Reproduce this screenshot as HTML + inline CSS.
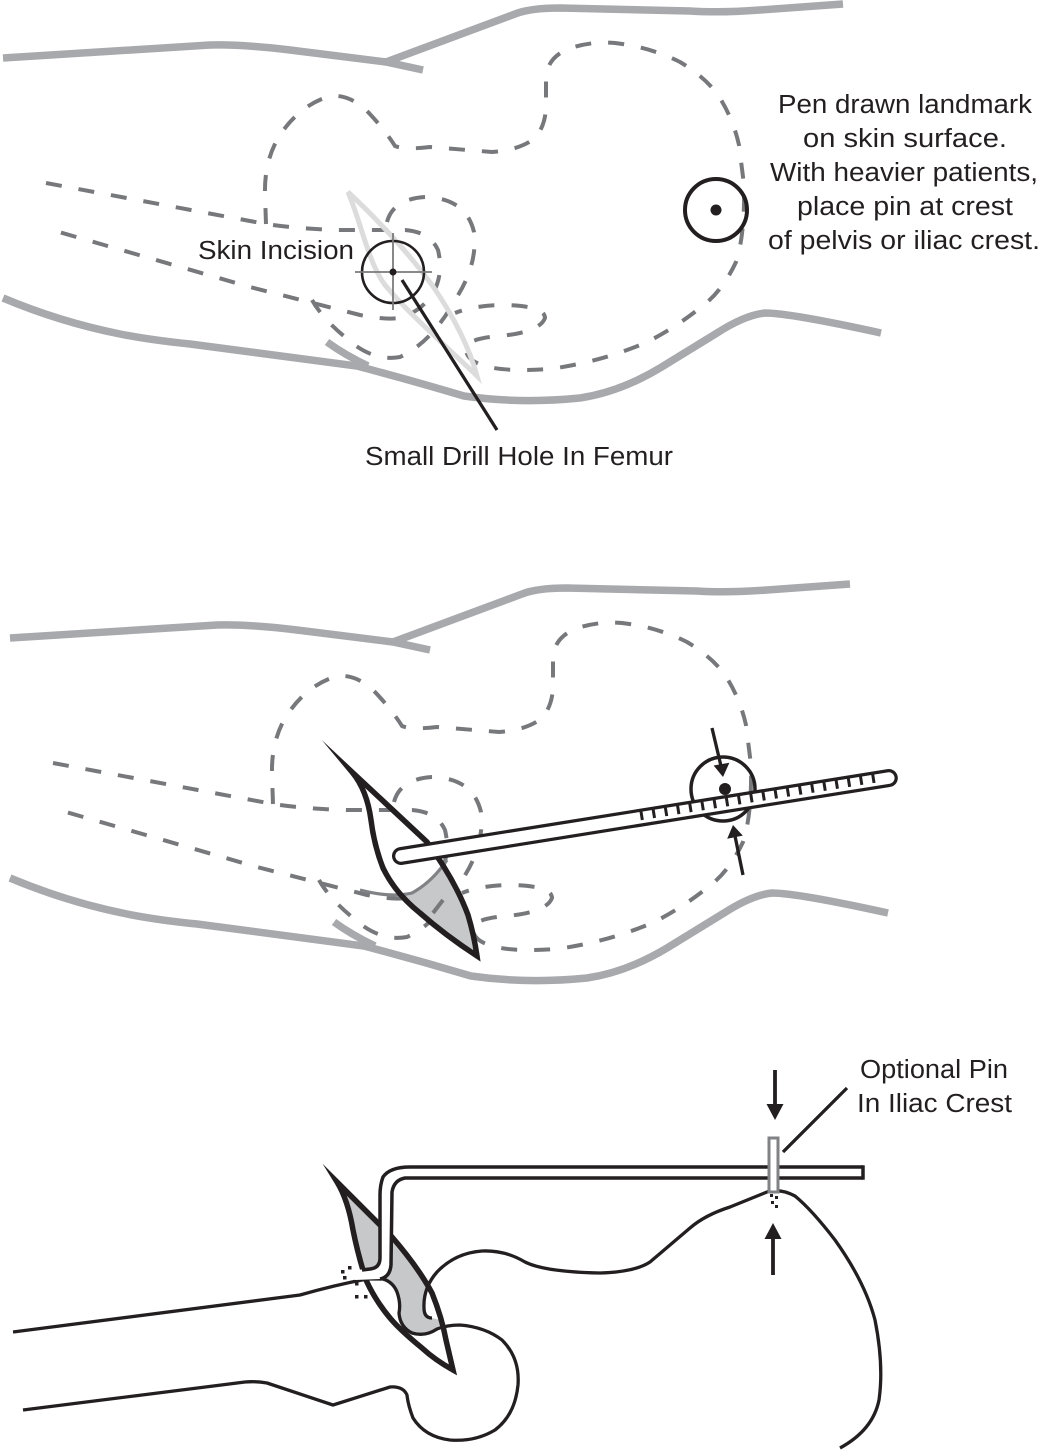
<!DOCTYPE html>
<html>
<head>
<meta charset="utf-8">
<style>
  html,body{margin:0;padding:0;background:#fff;}
  svg{display:block;}
  text{font-family:"Liberation Sans", Arial, sans-serif;font-size:25.5px;fill:#231f20;}
</style>
</head>
<body>
<svg width="1040" height="1451" viewBox="0 0 1040 1451" xmlns="http://www.w3.org/2000/svg">
<defs>
  <clipPath id="tdM"><path d="M352,772 L427,842 Q455,880 468,915 Q474,935 477,956 Q445,935 420,913 Q395,893 383,868 Q374,845 371,820 Q367,790 352,772 Z"/></clipPath>
  <clipPath id="tdB"><path d="M337,1182 L392,1237 Q418,1267 432,1293 Q442,1318 446,1340 L453,1370 Q435,1360 422,1348 Q400,1330 390,1318 Q375,1300 366,1280 Q358,1255 353,1230 Q348,1200 337,1182 Z"/></clipPath>
</defs>
<rect x="0" y="0" width="1040" height="1451" fill="#fff"/>

<!-- ================= TOP SECTION ================= -->
<g>
  <g fill="none" stroke="#a7a9ac" stroke-width="7.5">
    <path d="M3,58 L210,45 Q240,44 290,50 L386,62 L423,70"/>
    <path d="M386,62 L515,14 Q530,8 560,8 L690,11 Q720,13 760,10 L843,4"/>
    <path d="M3,298 Q60,322 120,334 Q150,340 190,344 L357,366 Q410,380 464,396 Q520,404 580,398 Q620,392 660,368 L717,333 Q745,315 765,313 Q790,313 881,333"/>
    <path d="M327,342 Q345,355 368,366"/>
  </g>
  <g fill="none" stroke="#77787b" stroke-width="4" stroke-dasharray="16 17">
    <path d="M266,224 L265,195 Q264,160 280,135 Q300,105 330,96 Q350,94 368,112 Q385,130 395,146 Q405,150 430,147 L492,152 Q520,150 535,138 Q546,125 546,105 L546,78 Q547,58 568,49 Q590,41 615,43 Q650,47 680,62 Q705,77 718,95 Q733,118 739,145 L744,185 Q745,235 736,262 Q722,292 700,308 Q672,330 645,343 Q600,362 550,369 Q505,372 485,366 Q464,360 466,346 Q472,338 500,336 Q540,332 545,318 Q545,306 505,305 Q475,305 455,313"/>
    <path d="M387,222 Q393,199 425,197 Q466,198 474,232 Q478,265 455,300 Q432,342 400,357 Q372,362 345,337 Q322,318 312,300"/>
    <path d="M46,183 L266,224 Q300,229 340,230 L405,230 Q430,232 438,250 Q444,275 432,295 Q420,312 400,318 Q385,320 360,315 L250,287 L45,228"/>
  </g>
  <circle cx="716" cy="210" r="31" fill="none" stroke="#231f20" stroke-width="4"/>
  <circle cx="716" cy="210" r="5.5" fill="#231f20"/>

  <!-- light incision -->
  <path d="M348,192 C380,222 410,255 432,285 C455,318 470,350 477,376 C445,345 410,315 385,285 C368,262 362,225 348,192 Z" fill="none" stroke="#dcdcdc" stroke-width="5"/>
  <!-- crosshair target -->
  <circle cx="393" cy="272" r="31" fill="none" stroke="#231f20" stroke-width="2.6"/>
  <line x1="355" y1="272" x2="432" y2="272" stroke="#7a7a7a" stroke-width="1.8"/>
  <line x1="393" y1="233" x2="393" y2="310" stroke="#7a7a7a" stroke-width="1.8"/>
  <circle cx="393" cy="272" r="3.5" fill="#231f20"/>
  <line x1="402" y1="280" x2="497" y2="430" stroke="#231f20" stroke-width="3.3"/>

  <text x="198" y="259" textLength="156" lengthAdjust="spacingAndGlyphs">Skin Incision</text>
  <text x="365" y="465" textLength="308" lengthAdjust="spacingAndGlyphs">Small Drill Hole In Femur</text>
  <text x="778" y="113" textLength="254" lengthAdjust="spacingAndGlyphs">Pen drawn landmark</text>
  <text x="803" y="147" textLength="204" lengthAdjust="spacingAndGlyphs">on skin surface.</text>
  <text x="770" y="181" textLength="268" lengthAdjust="spacingAndGlyphs">With heavier patients,</text>
  <text x="797" y="215" textLength="216" lengthAdjust="spacingAndGlyphs">place pin at crest</text>
  <text x="768" y="249" textLength="272" lengthAdjust="spacingAndGlyphs">of pelvis or iliac crest.</text>
</g>

<!-- ================= MIDDLE SECTION ================= -->
<g transform="translate(7,580)">
  <g fill="none" stroke="#a7a9ac" stroke-width="7.5">
    <path d="M3,58 L210,45 Q240,44 290,50 L386,62 L423,70"/>
    <path d="M386,62 L515,14 Q530,8 560,8 L690,11 Q720,13 760,10 L843,4"/>
    <path d="M3,298 Q60,322 120,334 Q150,340 190,344 L357,366 Q410,380 464,396 Q520,404 580,398 Q620,392 660,368 L717,333 Q745,315 765,313 Q790,313 881,333"/>
    <path d="M327,342 Q345,355 368,366"/>
  </g>
  <g fill="none" stroke="#77787b" stroke-width="4" stroke-dasharray="16 17">
    <path d="M266,224 L265,195 Q264,160 280,135 Q300,105 330,96 Q350,94 368,112 Q385,130 395,146 Q405,150 430,147 L492,152 Q520,150 535,138 Q546,125 546,105 L546,78 Q547,58 568,49 Q590,41 615,43 Q650,47 680,62 Q705,77 718,95 Q733,118 739,145 L744,185 Q745,235 736,262 Q722,292 700,308 Q672,330 645,343 Q600,362 550,369 Q505,372 485,366 Q464,360 466,346 Q472,338 500,336 Q540,332 545,318 Q545,306 505,305 Q475,305 455,313"/>
    <path d="M387,222 Q393,199 425,197 Q466,198 474,232 Q478,265 455,300 Q432,342 400,357 Q372,362 345,337 Q322,318 312,300"/>
    <path d="M46,183 L266,224 Q300,229 340,230 L405,230 Q430,232 438,250 Q444,275 432,295 Q420,312 400,318 Q385,320 360,315 L250,287 L45,228"/>
  </g>
  <circle cx="716" cy="209" r="32" fill="none" stroke="#231f20" stroke-width="3.5"/>
  <circle cx="718" cy="209" r="6" fill="#231f20"/>
</g>

<!-- middle teardrop -->
<path clip-path="url(#tdM)" d="M340,893 Q390,900 412,893 Q432,882 447,860 L520,860 L520,980 L340,980 Z" fill="#c7c8ca"/>
<path d="M360,890 Q390,898 412,893 Q432,882 447,860" fill="none" stroke="#808285" stroke-width="3.2"/>
<line x1="433" y1="913" x2="443" y2="900" stroke="#77787b" stroke-width="4"/>
<path d="M352,772 L427,842 Q455,880 468,915 Q474,935 477,956 Q445,935 420,913 Q395,893 383,868 Q374,845 371,820 Q367,790 352,772 Z" fill="none" stroke="#231f20" stroke-width="5.5" stroke-linejoin="miter" stroke-miterlimit="20"/>

<!-- middle bar with ticks -->
<g transform="translate(401,856) rotate(-9.08)">
  <line x1="0" y1="0" x2="494" y2="0" stroke="#231f20" stroke-width="18" stroke-linecap="round"/>
  <line x1="0" y1="0" x2="494" y2="0" stroke="#fff" stroke-width="11.5" stroke-linecap="round"/>
  <g stroke="#231f20" stroke-width="3">
    <line x1="244" y1="-6" x2="244" y2="2.5"/>
    <line x1="256.35" y1="-6" x2="256.35" y2="2.5"/>
    <line x1="268.7" y1="-6" x2="268.7" y2="2.5"/>
    <line x1="281.05" y1="-6" x2="281.05" y2="2.5"/>
    <line x1="293.4" y1="-6" x2="293.4" y2="2.5"/>
    <line x1="305.75" y1="-6" x2="305.75" y2="2.5"/>
    <line x1="318.1" y1="-6" x2="318.1" y2="2.5"/>
    <line x1="330.45" y1="-6" x2="330.45" y2="2.5"/>
    <line x1="342.8" y1="-6" x2="342.8" y2="2.5"/>
    <line x1="355.15" y1="-6" x2="355.15" y2="2.5"/>
    <line x1="367.5" y1="-6" x2="367.5" y2="2.5"/>
    <line x1="379.85" y1="-6" x2="379.85" y2="2.5"/>
    <line x1="392.2" y1="-6" x2="392.2" y2="2.5"/>
    <line x1="404.55" y1="-6" x2="404.55" y2="2.5"/>
    <line x1="416.9" y1="-6" x2="416.9" y2="2.5"/>
    <line x1="429.25" y1="-6" x2="429.25" y2="2.5"/>
    <line x1="441.6" y1="-6" x2="441.6" y2="2.5"/>
    <line x1="453.95" y1="-6" x2="453.95" y2="2.5"/>
    <line x1="466.3" y1="-6" x2="466.3" y2="2.5"/>
    <line x1="478.65" y1="-6" x2="478.65" y2="2.5"/>
  </g>
</g>

<!-- middle arrows -->
<line x1="712" y1="728" x2="721" y2="766" stroke="#231f20" stroke-width="3.3"/>
<polygon points="723,777 713.6,765.5 729.4,762.8" fill="#231f20"/>
<line x1="743" y1="875" x2="735" y2="836" stroke="#231f20" stroke-width="3.3"/>
<polygon points="733,825 727.2,838.7 742.8,835.6" fill="#231f20"/>

<!-- ================= BOTTOM SECTION ================= -->
<path d="M337,1182 L392,1237 Q418,1267 432,1293 Q442,1318 446,1340 L453,1370 Q435,1360 422,1348 Q400,1330 390,1318 Q375,1300 366,1280 Q358,1255 353,1230 Q348,1200 337,1182 Z" fill="#c7c8ca"/>
<g clip-path="url(#tdB)" fill="#fff">
  <path d="M320,1284 L367,1279 L385,1279 Q393,1282 397,1292 Q401,1303 399,1313 Q400,1327 412,1333 Q425,1337 437,1329 Q447,1325 460,1325 L470,1400 L320,1400 Z"/>
  <path d="M424,1308 Q423,1288 437,1272 Q455,1253 482,1251 L482,1330 L432,1318 Q424,1318 424,1308 Z"/>
</g>
<path d="M337,1182 L392,1237 Q418,1267 432,1293 Q442,1318 446,1340 L453,1370 Q435,1360 422,1348 Q400,1330 390,1318 Q375,1300 366,1280 Q358,1255 353,1230 Q348,1200 337,1182 Z" fill="none" stroke="#231f20" stroke-width="5.5" stroke-linejoin="miter" stroke-miterlimit="20"/>

<!-- femur outline -->
<path d="M13,1332 L300,1295 Q335,1285 367,1279 L383,1279 Q393,1282 397,1292 Q401,1303 399,1313 Q400,1327 412,1333 Q425,1337 437,1329 Q447,1325 460,1325 Q485,1327 502,1340 Q520,1358 518,1385 Q515,1415 495,1430 Q475,1442 450,1440 Q425,1437 413,1418 Q408,1405 407,1395 Q403,1386 390,1387 L333,1405 L267,1383 Q255,1381 245,1382 L23,1410" fill="none" stroke="#231f20" stroke-width="3.3" stroke-linejoin="round"/>
<!-- pelvis outline -->
<path d="M432,1318 Q424,1318 424,1308 Q423,1288 437,1272 Q455,1253 482,1251 Q505,1250 525,1262 Q545,1272 600,1273 Q635,1272 650,1262 Q670,1245 690,1228 Q705,1215 730,1207 L767,1192 Q780,1188 795,1196 Q812,1210 835,1240 Q865,1282 875,1320 Q884,1365 879,1400 Q873,1430 840,1448" fill="none" stroke="#231f20" stroke-width="3.3" stroke-linejoin="round"/>

<!-- bent bar -->
<path d="M863,1167 L410,1167 Q390,1167 383,1177 Q380,1185 380,1195 L380,1258 Q380,1268 370,1269 L355,1270 L355,1280 L380,1279 Q390,1277 391,1265 L392,1192 Q394,1180 405,1178 L863,1178 Z" fill="#fff"/>
<path d="M863,1167 L410,1167 Q390,1167 383,1177 Q380,1185 380,1195 L380,1258 Q380,1268 370,1269 L362,1270" fill="none" stroke="#231f20" stroke-width="3.5"/>
<path d="M863,1178 L405,1178 Q394,1180 392,1192 L391,1265 Q390,1277 380,1279" fill="none" stroke="#231f20" stroke-width="3.5"/>
<line x1="863" y1="1165.3" x2="863" y2="1179.7" stroke="#231f20" stroke-width="3.5"/>

<!-- dotted marks -->
<g fill="#231f20">
  <rect x="341" y="1270" width="3.5" height="3.5"/>
  <rect x="348" y="1266" width="3.5" height="3.5"/>
  <rect x="343" y="1276" width="3.5" height="3.5"/>
  <rect x="355" y="1282" width="3.5" height="3.5"/>
  <rect x="355" y="1295" width="3.5" height="3.5"/>
  <rect x="364" y="1295" width="3.5" height="3.5"/>
  <rect x="770" y="1194" width="3" height="3"/>
  <rect x="775" y="1196" width="3" height="3"/>
  <rect x="771" y="1201" width="3" height="3"/>
  <rect x="775" y="1205" width="3" height="3"/>
</g>

<!-- optional pin -->
<rect x="769" y="1138" width="9" height="54" fill="#fff" stroke="#808285" stroke-width="3"/>

<!-- arrows bottom -->
<line x1="775" y1="1070" x2="775" y2="1108" stroke="#231f20" stroke-width="3.8"/>
<polygon points="766.5,1104 783.5,1104 775,1120" fill="#231f20"/>
<line x1="773" y1="1236" x2="773" y2="1275" stroke="#231f20" stroke-width="3.8"/>
<polygon points="764.5,1239 781.5,1239 773,1223" fill="#231f20"/>
<line x1="783" y1="1152" x2="847" y2="1088" stroke="#231f20" stroke-width="3.3"/>

<text x="860" y="1078" textLength="148" lengthAdjust="spacingAndGlyphs">Optional Pin</text>
<text x="857" y="1112" textLength="155" lengthAdjust="spacingAndGlyphs">In Iliac Crest</text>
</svg>
</body>
</html>
